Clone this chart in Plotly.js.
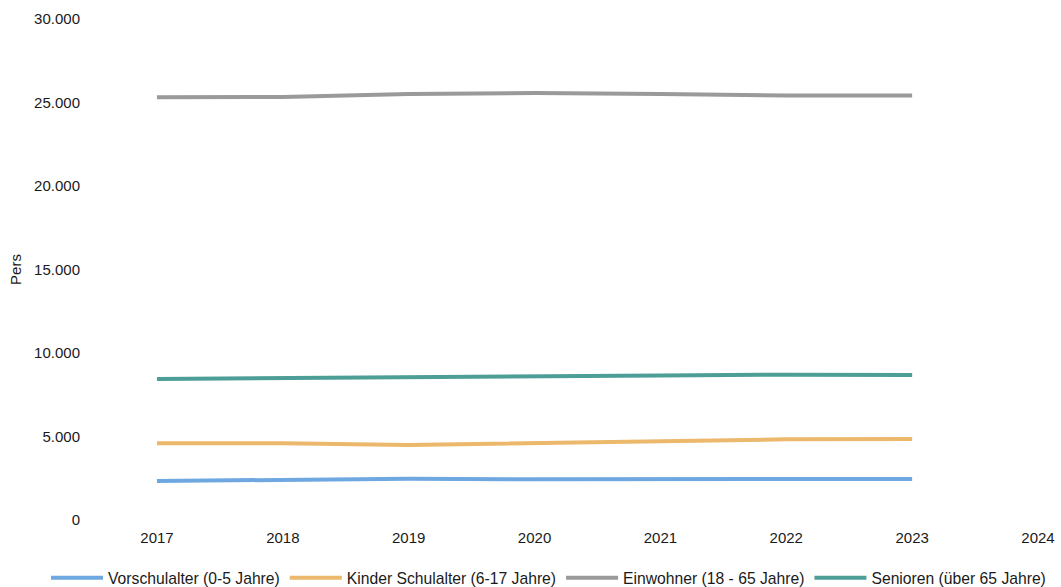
<!DOCTYPE html>
<html>
<head>
<meta charset="utf-8">
<script src="https://cdn.plot.ly/plotly-3.0.1.min.js"></script>
<style>html,body{margin:0;padding:0;background:#fff;}#chart{width:1061px;height:587px;}</style>
</head>
<body>
<div id="chart"></div>
<script>
const years = [2017, 2018, 2019, 2020, 2021, 2022, 2023];
const seriesNames = ["Vorschulalter (0-5 Jahre)", "Kinder Schulalter (6-17 Jahre)", "Einwohner (18 - 65 Jahre)", "Senioren (über 65 Jahre)"];
const vorschulalter = [2335, 2380, 2470, 2440, 2450, 2460, 2455];
const kinderSchulalter = [4593, 4590, 4490, 4620, 4690, 4830, 4850];
const einwohner = [25317, 25330, 25510, 25570, 25510, 25420, 25420];
const senioren = [8443, 8480, 8530, 8560, 8650, 8700, 8680];
const yTicks = [0, 5000, 10000, 15000, 20000, 25000, 30000];
const xTicks = [2017, 2018, 2019, 2020, 2021, 2022, 2023, 2024];
const colors = ["#6fa8e0", "#ebb86c", "#9a9a9a", "#4e9e98"];

const values = [vorschulalter, kinderSchulalter, einwohner, senioren];
const traces = values.map((v, i) => ({
  type: "scatter",
  mode: "lines",
  x: years,
  y: v,
  name: seriesNames[i],
  line: {color: colors[i], width: 4}
}));

const font = {family: "Liberation Sans, Arial, sans-serif", size: 15, color: "#1a1a1a"};
const legendFont = {family: "Liberation Sans, Arial, sans-serif", size: 15.7, color: "#1a1a1a"};
const layout = {
  width: 1061,
  height: 587,
  margin: {l: 86, r: 23, t: 19, b: 67, autoexpand: false},
  paper_bgcolor: "#ffffff",
  plot_bgcolor: "#ffffff",
  separators: ",.",
  font: font,
  showlegend: true,
  xaxis: {
    range: [2016.436, 2024],
    tickvals: xTicks,
    ticktext: xTicks.map(String),
    showgrid: false,
    zeroline: false,
    showline: false,
    ticks: "outside",
    ticklen: 4,
    tickcolor: "rgba(0,0,0,0)",
    tickfont: font
  },
  yaxis: {
    range: [0, 30000],
    tickvals: yTicks,
    tickformat: ",d",
    showgrid: false,
    zeroline: false,
    showline: false,
    ticks: "outside",
    ticklen: 2,
    tickcolor: "rgba(0,0,0,0)",
    tickfont: font,
    title: {text: "Pers", font: font, standoff: 8}
  },
  legend: {
    orientation: "h",
    x: -0.042,
    xanchor: "left",
    y: -0.116,
    yanchor: "middle",
    font: legendFont,
    itemwidth: 52,
    tracegroupgap: 0
  }
};

Plotly.newPlot("chart", traces, layout, {displayModeBar: false, staticPlot: true});
</script>
</body>
</html>
